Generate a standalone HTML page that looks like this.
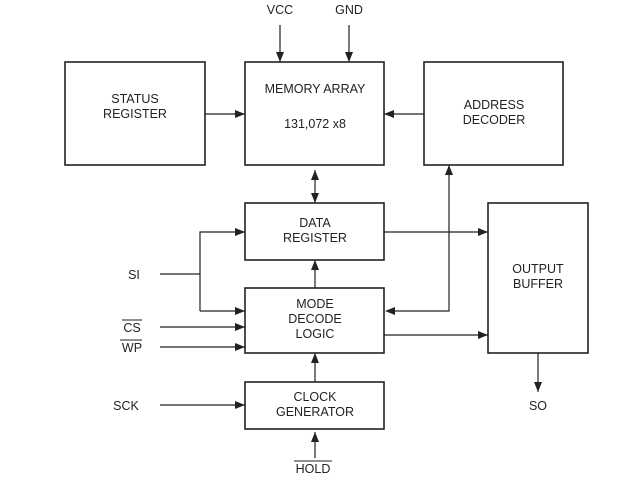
<!DOCTYPE html><html><head><style>body{margin:0;background:#fff}svg{display:block}text{font-family:"Liberation Sans",sans-serif;font-size:12.5px;fill:#222;text-anchor:middle}</style></head><body>
<svg width="619" height="496" viewBox="0 0 619 496">
<defs><marker id="a" markerWidth="10" markerHeight="8" refX="10" refY="4" orient="auto" markerUnits="userSpaceOnUse"><path d="M0,0L10,4L0,8z" fill="#222"/></marker>
<marker id="s" markerWidth="10" markerHeight="8" refX="0" refY="4" orient="auto" markerUnits="userSpaceOnUse"><path d="M10,0L0,4L10,8z" fill="#222"/></marker></defs>
<g fill="none" stroke="#222" stroke-width="1.6">
<rect x="65" y="62" width="140" height="103"/>
<rect x="245" y="62" width="139" height="103"/>
<rect x="424" y="62" width="139" height="103"/>
<rect x="245" y="203" width="139" height="57"/>
<rect x="245" y="288" width="139" height="65"/>
<rect x="245" y="382" width="139" height="47"/>
<rect x="488" y="203" width="100" height="150"/>
</g>
<g stroke="#222" stroke-width="1.2" fill="none" marker-end="url(#a)">
<line x1="280" y1="25" x2="280" y2="62"/>
<line x1="349" y1="25" x2="349" y2="62"/>
<line x1="205" y1="114" x2="245" y2="114"/>
<line x1="424" y1="114" x2="384" y2="114"/>
<line x1="315" y1="170" x2="315" y2="203" marker-start="url(#s)"/>
<polyline points="392,311 449,311 449,165"/>
<line x1="384" y1="232" x2="488" y2="232"/>
<line x1="384" y1="335" x2="488" y2="335"/>
<polyline points="200,311 200,232 245,232"/>
<line x1="200" y1="311" x2="245" y2="311"/>
<line x1="160" y1="327" x2="245" y2="327"/>
<line x1="160" y1="347" x2="245" y2="347"/>
<line x1="160" y1="405" x2="245" y2="405"/>
<line x1="315" y1="288" x2="315" y2="260"/>
<line x1="315" y1="382" x2="315" y2="353"/>
<line x1="315" y1="458" x2="315" y2="432"/>
<line x1="538" y1="353" x2="538" y2="392"/>
</g>
<path d="M385,311L395,307L395,315z" fill="#222"/>
<line x1="160" y1="274" x2="200" y2="274" stroke="#222" stroke-width="1.2"/>
<text x="280" y="14">VCC</text><text x="349" y="14">GND</text>
<text x="135" y="103">STATUS</text><text x="135" y="118">REGISTER</text>
<text x="315" y="93">MEMORY ARRAY</text><text x="315" y="128">131,072 x8</text>
<text x="494" y="109">ADDRESS</text><text x="494" y="124">DECODER</text>
<text x="315" y="227">DATA</text><text x="315" y="242">REGISTER</text>
<text x="315" y="308">MODE</text><text x="315" y="323">DECODE</text><text x="315" y="338">LOGIC</text>
<text x="315" y="401">CLOCK</text><text x="315" y="416">GENERATOR</text>
<text x="538" y="273">OUTPUT</text><text x="538" y="288">BUFFER</text>
<text x="134" y="279">SI</text>
<text x="132" y="332">CS</text><line x1="122" y1="320" x2="142" y2="320" stroke="#222"/>
<text x="132" y="352">WP</text><line x1="120" y1="340" x2="142" y2="340" stroke="#222"/>
<text x="126" y="410">SCK</text>
<text x="313" y="473">HOLD</text><line x1="294" y1="461" x2="332" y2="461" stroke="#222"/>
<text x="538" y="410">SO</text>
</svg></body></html>
